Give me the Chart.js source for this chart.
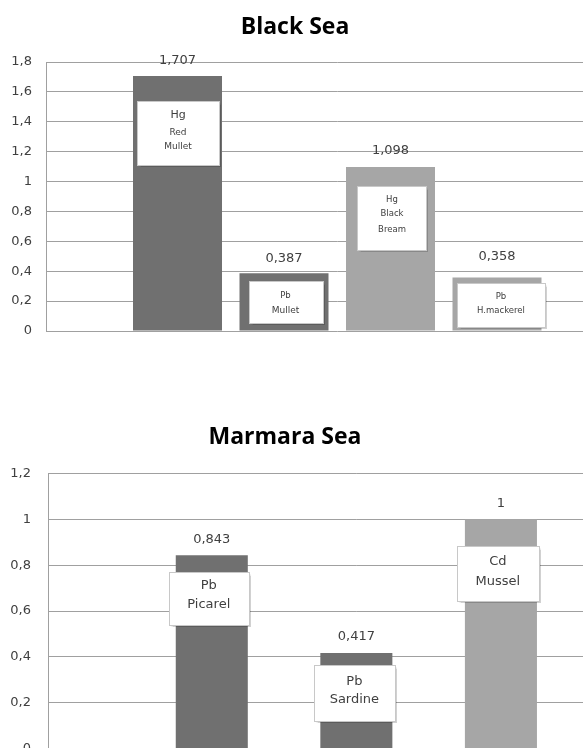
<!DOCTYPE html>
<html>
<head>
<meta charset="utf-8">
<script src="https://cdn.jsdelivr.net/npm/chart.js@4/dist/chart.umd.min.js"></script>
<style>
  html, body { margin:0; padding:0; background:#fff; overflow:hidden; width:583px; height:748px; }
  .wrap { position:absolute; left:0; overflow:hidden; width:583px; }
  canvas { position:absolute; left:0; top:0; display:block; }
  .title { position:absolute; font-family:"Open Sans", sans-serif; font-weight:700; font-size:23px; color:#000; white-space:nowrap; transform:translateX(-50%); line-height:1; }
</style>
</head>
<body>
<div class="wrap" style="top:0;height:400px;">
  <canvas id="black" width="640" height="345" style="width:640px;height:345px;"></canvas>
</div>
<div class="wrap" style="top:400px;height:348px;">
  <canvas id="marmara" width="680" height="370" style="width:680px;height:370px;"></canvas>
</div>
<div class="title" id="t1" style="left:295px;top:14px;">Black Sea</div>
<div class="title" id="t2" style="left:285px;top:424px;">Marmara Sea</div>
<script>
// ---- data ----
const blackTitle = 'Black Sea';
const blackSpecies = ['Red Mullet', 'Mullet', 'Black Bream', 'H.mackerel'];
const blackMetals = ['Hg', 'Pb', 'Hg', 'Pb'];
const blackFishLines = [['Red', 'Mullet'], ['Mullet'], ['Black', 'Bream'], ['H.mackerel']];
const blackValues = [1.707, 0.387, 1.098, 0.358];
const blackTicks = ['0', '0,2', '0,4', '0,6', '0,8', '1', '1,2', '1,4', '1,6', '1,8'];

const marmaraTitle = 'Marmara Sea';
const marmaraSpecies = ['Picarel', 'Sardine', 'Mussel'];
const marmaraMetals = ['Pb', 'Pb', 'Cd'];
const marmaraFishLines = [['Picarel'], ['Sardine'], ['Mussel']];
const marmaraValues = [0.843, 0.417, 1];
const marmaraTicks = ['0', '0,2', '0,4', '0,6', '0,8', '1', '1,2'];

// ---- styles ----
const DARK = '#707070', LIGHT = '#a6a6a6';
const blackColors = [DARK, DARK, LIGHT, LIGHT];
const marmaraColors = [DARK, DARK, LIGHT];

// label box layout (relative to bar centre / bar top)
const blackBoxes = [
  {dx: 0.5, dy: 25.3, w: 82, h: 64, valueDy: 15, metal: {size: 11, y: 14}, fish: {size: 9, ys: [31.5, 45]}},
  {dx: 1.5, dy: 8,    w: 74, h: 42, valueDy: 15, metal: {size: 8.5, y: 14}, fish: {size: 9, ys: [29]}},
  {dx: 1.5, dy: 18.8, w: 69, h: 64, valueDy: 16, metal: {size: 8.5, y: 13}, fish: {size: 8.5, ys: [27, 43]}},
  {dx: 4,   dy: 5.6,  w: 88, h: 44, valueDy: 21, metal: {size: 8.5, y: 13}, fish: {size: 8.5, ys: [27]}}
];
const marmaraBoxes = [
  {dx: -3, dy: 16.7, w: 80, h: 53, valueDy: 16, metal: {size: 13, y: 13}, fish: {size: 13, ys: [32]}},
  {dx: -2, dy: 12.1, w: 81, h: 56, valueDy: 16, metal: {size: 13, y: 15.7}, fish: {size: 13, ys: [34]}},
  {dx: -3, dy: 26.7, w: 82, h: 55, valueDy: 16, metal: {size: 13, y: 15}, fish: {size: 13, ys: [34.7]}}
];

document.getElementById('t1').textContent = blackTitle;
document.getElementById('t2').textContent = marmaraTitle;

Chart.defaults.font.family = '"DejaVu Sans", sans-serif';
Chart.defaults.font.size = 13;
Chart.defaults.color = '#404040';

const fmt = v => String(v).replace('.', ',');

const labelPlugin = {
  id: 'barLabels',
  afterDatasetsDraw(chart, args, opts) {
    const ctx = chart.ctx;
    ctx.save();
    chart.data.datasets.forEach((ds, i) => {
      const bar = chart.getDatasetMeta(i).data[0];
      const st = opts.boxes[i];
      ctx.fillStyle = '#404040';
      ctx.textAlign = 'center';
      ctx.textBaseline = 'middle';
      ctx.font = '13px "DejaVu Sans"';
      ctx.fillText(fmt(ds.data[0]), bar.x, bar.y - st.valueDy);
      const cx = bar.x + st.dx;
      const left = Math.round(cx - st.w / 2) + 0.5;
      const top = Math.round(bar.y + st.dy) + 0.5;
      ctx.shadowColor = 'rgba(0,0,0,0.18)';
      ctx.shadowOffsetX = 1; ctx.shadowOffsetY = 1; ctx.shadowBlur = 1;
      ctx.fillStyle = '#ffffff';
      ctx.fillRect(left, top, st.w, st.h);
      ctx.shadowColor = 'transparent';
      ctx.strokeStyle = '#c8c8c8';
      ctx.lineWidth = 1;
      ctx.strokeRect(left, top, st.w, st.h);
      ctx.fillStyle = '#404040';
      ctx.font = st.metal.size + 'px "DejaVu Sans"';
      ctx.fillText(opts.metals[i], cx, top + st.metal.y);
      ctx.font = st.fish.size + 'px "DejaVu Sans"';
      opts.fish[i].forEach((line, k) => ctx.fillText(line, cx, top + st.fish.ys[k]));
    });
    ctx.restore();
  }
};

function makeChart(id, category, species, values, colors, ticks, max, axisWidth, tickPad, padding, catPct, barPct, boxes, metals, fish) {
  return new Chart(document.getElementById(id), {
    type: 'bar',
    data: {
      labels: [category],
      datasets: species.map((s, i) => ({
        label: s,
        data: [values[i]],
        backgroundColor: colors[i],
        borderWidth: 0,
        categoryPercentage: catPct,
        barPercentage: barPct
      }))
    },
    options: {
      responsive: false,
      animation: false,
      events: [],
      devicePixelRatio: 1,
      layout: { padding: padding },
      plugins: {
        legend: { display: false },
        tooltip: { enabled: false },
        title: { display: false },
        barLabels: { boxes: boxes, metals: metals, fish: fish }
      },
      scales: {
        x: { display: false },
        y: {
          min: 0, max: max,
          ticks: {
            stepSize: 0.2,
            padding: tickPad,
            color: '#404040',
            font: { size: 13 },
            callback: (v, idx) => ticks[idx]
          },
          grid: { color: '#a0a0a0', lineWidth: 1, drawTicks: false },
          border: { display: true, color: '#a0a0a0', width: 1 },
          afterFit: s => { s.width = axisWidth; s.paddingTop = 0; s.paddingBottom = 0; }
        }
      }
    },
    plugins: [labelPlugin]
  });
}

makeChart('black', blackTitle, blackSpecies, blackValues, blackColors, blackTicks, 1.8,
  46, 14, {top: 62, right: 11.5, bottom: 14, left: 0}, 0.7313, 0.8357,
  blackBoxes, blackMetals, blackFishLines);

makeChart('marmara', marmaraTitle, marmaraSpecies, marmaraValues, marmaraColors, marmaraTicks, 1.2,
  48, 17, {top: 73.5, right: 15.3, bottom: 21.5, left: 0}, 0.7033, 0.4983,
  marmaraBoxes, marmaraMetals, marmaraFishLines);
</script>
</body>
</html>
